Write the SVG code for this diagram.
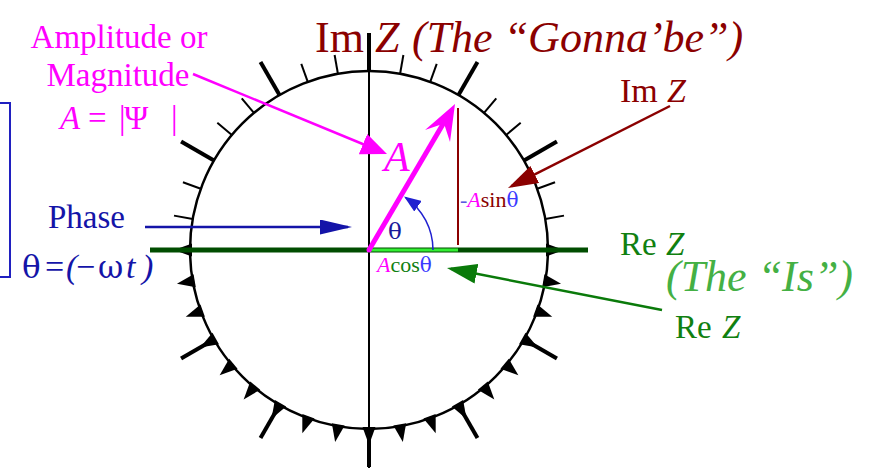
<svg xmlns="http://www.w3.org/2000/svg" xmlns:xlink="http://www.w3.org/1999/xlink" width="875" height="473" viewBox="0 0 875 473">
<style>
  text { font-family: "Liberation Serif", "Times New Roman", serif; }
  .gk { font-family: "DejaVu Serif", "Liberation Serif", serif; }
  .it { font-style: italic; }
  .thin { stroke: #000; stroke-width: 2; }
  .thick { stroke: #000; stroke-width: 4; }
  .tri { fill: #000; }
  .mag { fill: #ff00ff; }
  .dred { fill: #8b0000; }
  .blue { fill: #1414a8; }
  .lblue { fill: #3a3aff; }
  .grn { fill: #108010; }
</style>
<defs>
  <line id="tk-thin" x1="548" y1="250" x2="567" y2="250"/>
  <line id="tk-thick" x1="548" y1="250" x2="586" y2="250"/>
  <polygon id="tk-tri" points="546,243.5 546,256.5 564,250"/>
  <marker id="mk-mag" markerUnits="userSpaceOnUse" viewBox="0 0 26 22" markerWidth="26" markerHeight="22" refX="22" refY="11" orient="auto"><path d="M0,0 L26,11 L0,22 Z" fill="#ff00ff"/></marker>
  <marker id="mk-blue" markerUnits="userSpaceOnUse" viewBox="0 0 32 15" markerWidth="32" markerHeight="15" refX="28" refY="7.5" orient="auto"><path d="M0,0 L32,7.5 L0,15 Z" fill="#1414a8"/></marker>
  <marker id="mk-red" markerUnits="userSpaceOnUse" viewBox="0 0 30 19" markerWidth="30" markerHeight="19" refX="26" refY="9.5" orient="auto"><path d="M0,0 L30,9.5 L0,19 Z" fill="#8b0000"/></marker>
  <marker id="mk-grn" markerUnits="userSpaceOnUse" viewBox="0 0 30 20" markerWidth="30" markerHeight="20" refX="26" refY="10" orient="auto"><path d="M0,0 L30,10 L0,20 Z" fill="#0a7a0a"/></marker>
  <marker id="mk-arc" markerUnits="userSpaceOnUse" viewBox="0 0 17 13" markerWidth="17" markerHeight="13" refX="15" refY="6.5" orient="auto"><path d="M0,0 L17,6.5 L0,13 Z" fill="#2020d0"/></marker>
</defs>

<rect width="875" height="473" fill="#fff"/>

<g id="bracket">
  <rect x="-50" y="103" width="60" height="174" fill="none" stroke="#2020c0" stroke-width="2"/>
</g>

<g id="dial">
  <circle cx="369" cy="250" r="179" fill="none" stroke="#000" stroke-width="2.5"/>
  <g class="thin">
    <use xlink:href="#tk-thin" transform="rotate(-10 369 250)"/>
    <use xlink:href="#tk-thin" transform="rotate(-20 369 250)"/>
    <use xlink:href="#tk-thin" transform="rotate(-40 369 250)"/>
    <use xlink:href="#tk-thin" transform="rotate(-50 369 250)"/>
    <use xlink:href="#tk-thin" transform="rotate(-70 369 250)"/>
    <use xlink:href="#tk-thin" transform="rotate(-80 369 250)"/>
    <use xlink:href="#tk-thin" transform="rotate(-100 369 250)"/>
    <use xlink:href="#tk-thin" transform="rotate(-110 369 250)"/>
    <use xlink:href="#tk-thin" transform="rotate(-130 369 250)"/>
    <use xlink:href="#tk-thin" transform="rotate(-140 369 250)"/>
    <use xlink:href="#tk-thin" transform="rotate(-160 369 250)"/>
    <use xlink:href="#tk-thin" transform="rotate(-170 369 250)"/>
  </g>
  <g class="thick">
    <use xlink:href="#tk-thick" transform="rotate(-30 369 250)"/>
    <use xlink:href="#tk-thick" transform="rotate(-60 369 250)"/>
    <use xlink:href="#tk-thick" transform="rotate(-90 369 250)"/>
    <use xlink:href="#tk-thick" transform="rotate(-120 369 250)"/>
    <use xlink:href="#tk-thick" transform="rotate(-150 369 250)"/>
    <use xlink:href="#tk-thick" transform="rotate(30 369 250)"/>
    <use xlink:href="#tk-thick" transform="rotate(60 369 250)"/>
    <use xlink:href="#tk-thick" transform="rotate(90 369 250)"/>
    <use xlink:href="#tk-thick" transform="rotate(120 369 250)"/>
    <use xlink:href="#tk-thick" transform="rotate(150 369 250)"/>
  </g>
  <g class="tri">
    <use xlink:href="#tk-tri" transform="rotate(180 369 250)"/>
    <use xlink:href="#tk-tri" transform="rotate(170 369 250)"/>
    <use xlink:href="#tk-tri" transform="rotate(160 369 250)"/>
    <use xlink:href="#tk-tri" transform="rotate(150 369 250)"/>
    <use xlink:href="#tk-tri" transform="rotate(140 369 250)"/>
    <use xlink:href="#tk-tri" transform="rotate(130 369 250)"/>
    <use xlink:href="#tk-tri" transform="rotate(120 369 250)"/>
    <use xlink:href="#tk-tri" transform="rotate(110 369 250)"/>
    <use xlink:href="#tk-tri" transform="rotate(100 369 250)"/>
    <use xlink:href="#tk-tri" transform="rotate(90 369 250)"/>
    <use xlink:href="#tk-tri" transform="rotate(80 369 250)"/>
    <use xlink:href="#tk-tri" transform="rotate(70 369 250)"/>
    <use xlink:href="#tk-tri" transform="rotate(60 369 250)"/>
    <use xlink:href="#tk-tri" transform="rotate(50 369 250)"/>
    <use xlink:href="#tk-tri" transform="rotate(40 369 250)"/>
    <use xlink:href="#tk-tri" transform="rotate(30 369 250)"/>
    <use xlink:href="#tk-tri" transform="rotate(20 369 250)"/>
    <use xlink:href="#tk-tri" transform="rotate(10 369 250)"/>
    <use xlink:href="#tk-tri"/>
  </g>
</g>

<g id="axes">
  <line x1="369" y1="33" x2="369" y2="468" stroke="#000" stroke-width="2"/>
  <line x1="150" y1="250" x2="588" y2="250" stroke="#004d00" stroke-width="5"/>
  <line x1="369" y1="250" x2="458" y2="250" stroke="#33ee33" stroke-width="3"/>
</g>

<g id="components">
  <line x1="458" y1="108" x2="458" y2="245" stroke="#8b0000" stroke-width="2"/>
  <text x="460" y="207" font-size="22"><tspan fill="#5a5ae0">-</tspan><tspan class="it mag">A</tspan><tspan class="dred">sin</tspan><tspan class="lblue gk" font-size="20">θ</tspan></text>
  <text x="377" y="272" font-size="22"><tspan class="it mag">A</tspan><tspan class="grn">cos</tspan><tspan class="lblue gk" font-size="20">θ</tspan></text>
</g>

<g id="vector-A">
  <line x1="369" y1="250" x2="446" y2="119" stroke="#ff00ff" stroke-width="5"/>
  <path d="M455,104 L425,130 L444,123.5 L450,142 Z" fill="#ff00ff"/>
  <circle cx="369" cy="250" r="2.5" fill="#ff00ff"/>
  <text x="384" y="171" font-size="42" class="it mag">A</text>
</g>

<g id="angle-theta">
  <path d="M433,250 A64,64 0 0 0 405.7,197.6" fill="none" stroke="#2020d0" stroke-width="1.5" marker-end="url(#mk-arc)"/>
  <text x="388" y="239" font-size="23" class="gk" fill="#1a1a9a">θ</text>
</g>

<g id="connectors">
  <line x1="193" y1="74" x2="383.3" y2="152.5" stroke="#ff00ff" stroke-width="2.5" marker-end="url(#mk-mag)"/>
  <line x1="145" y1="227" x2="348" y2="227" stroke="#1414a8" stroke-width="2.5" marker-end="url(#mk-blue)"/>
  <line x1="670" y1="106" x2="511.6" y2="186.2" stroke="#8b0000" stroke-width="2.5" marker-end="url(#mk-red)"/>
  <line x1="662" y1="310" x2="450.9" y2="268.8" stroke="#0a7a0a" stroke-width="2.5" marker-end="url(#mk-grn)"/>
</g>

<g id="label-amplitude" font-size="33">
  <text x="119" y="48" text-anchor="middle" class="mag">Amplitude or</text>
  <text x="118" y="86" text-anchor="middle" class="mag">Magnitude</text>
  <text y="129" class="mag"><tspan x="60" class="it">A</tspan><tspan x="88">=</tspan><tspan x="119">|</tspan><tspan x="124">Ψ</tspan><tspan x="171">|</tspan></text>
</g>

<g id="label-title">
  <text y="52" font-size="44" class="dred"><tspan x="315">Im</tspan><tspan x="375" class="it">Z</tspan><tspan x="412" class="it">(The “Gonna’be”)</tspan></text>
</g>

<g id="label-imz">
  <text y="102" font-size="34" class="dred"><tspan x="620">Im</tspan><tspan x="667" class="it">Z</tspan></text>
</g>

<g id="label-rez-axis">
  <text y="255" font-size="33" class="grn"><tspan x="620">Re</tspan><tspan x="666" class="it">Z</tspan></text>
  <text x="666" y="291" font-size="44" class="it" fill="#44b044">(The “Is”)</text>
</g>

<g id="label-rez">
  <text y="338" font-size="33" class="grn"><tspan x="675">Re</tspan><tspan x="722" class="it">Z</tspan></text>
</g>

<g id="label-phase">
  <text x="48" y="228" font-size="33" class="blue">Phase</text>
  <text y="278" font-size="34" class="blue"><tspan x="22" class="gk" font-size="31">θ</tspan><tspan x="45">=</tspan><tspan x="66" class="it">(</tspan><tspan x="76">−</tspan><tspan x="98" class="gk" font-size="31">ω</tspan><tspan x="126" class="it">t</tspan><tspan x="142" class="it">)</tspan></text>
</g>
</svg>
